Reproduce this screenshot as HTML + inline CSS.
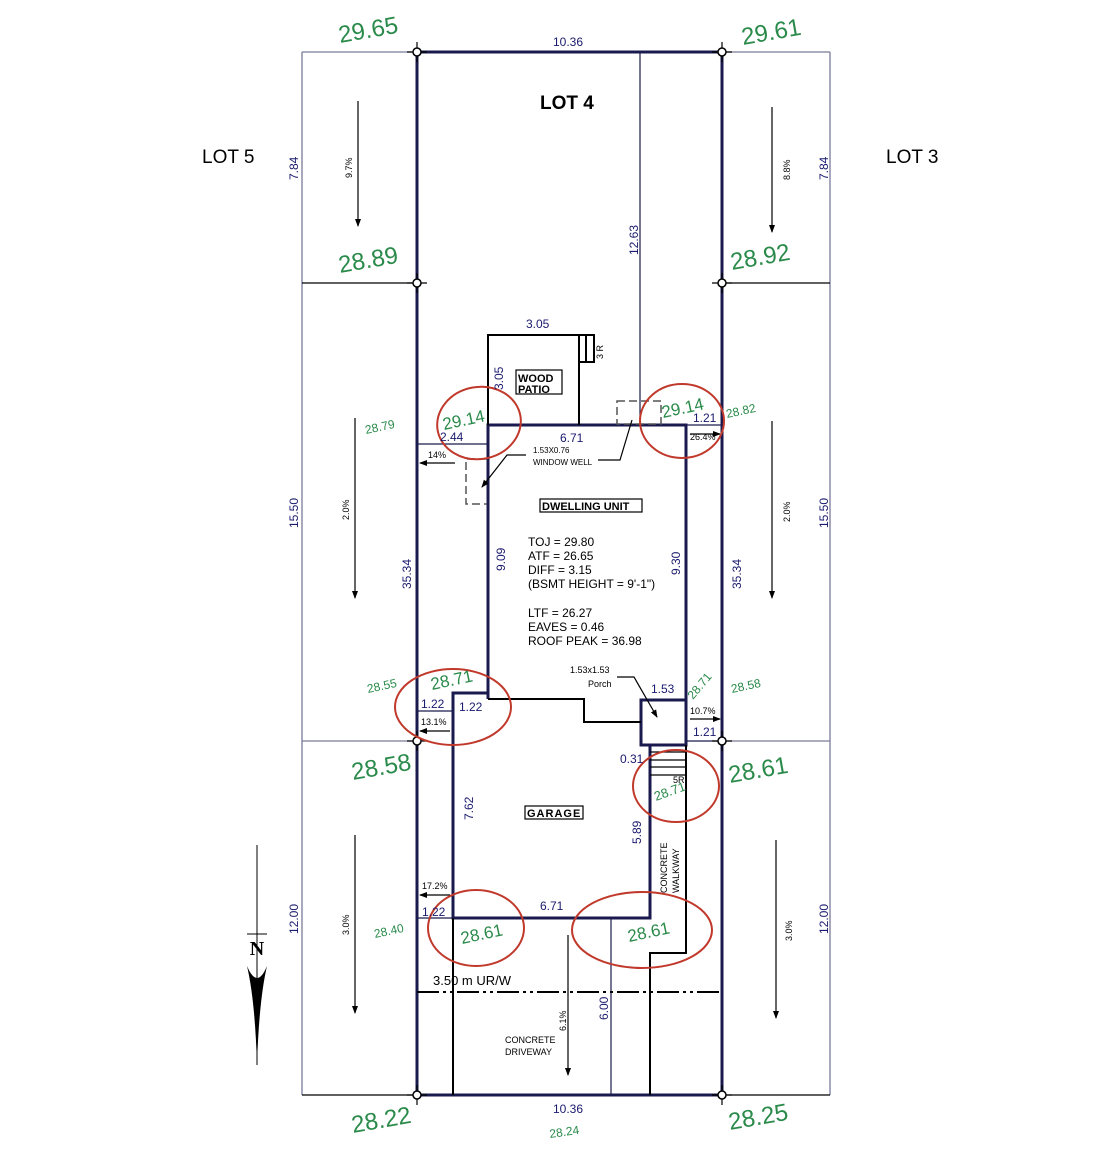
<!DOCTYPE html>
<html><head><meta charset="utf-8"><style>
html,body{margin:0;padding:0;background:#fff;}
svg{display:block;font-family:"Liberation Sans",sans-serif;}
.b{fill:#1a1a6e}
.g{fill:#2a8a4a}
.k{fill:#000}
</style></head><body>
<svg width="1120" height="1169" viewBox="0 0 1120 1169" xmlns="http://www.w3.org/2000/svg">
<defs>
<marker id="ar" markerWidth="8" markerHeight="8" refX="7" refY="4" orient="auto" markerUnits="userSpaceOnUse"><path d="M0,1 L8,4 L0,7 Z" fill="#000"/></marker>
</defs>
<g stroke="#7a7a9a" stroke-width="1.3" fill="none">
<line x1="302" y1="52" x2="302" y2="1095"/>
<line x1="830" y1="52" x2="830" y2="1095"/>
<line x1="302" y1="52" x2="417" y2="52"/>
<line x1="722" y1="52" x2="830" y2="52"/>
<line x1="302" y1="741" x2="417" y2="741"/>
<line x1="722" y1="741" x2="830" y2="741"/>
</g>
<g stroke="#000" stroke-width="1.2" fill="none">
<line x1="302" y1="283" x2="417" y2="283"/>
<line x1="722" y1="283" x2="830" y2="283"/>
<line x1="302" y1="1095" x2="417" y2="1095"/>
<line x1="722" y1="1095" x2="830" y2="1095"/>
</g>
<rect x="417" y="52" width="305" height="1043" fill="none" stroke="#1a1a4e" stroke-width="3"/>
<g stroke="#1a1a4e" stroke-width="1.2">
<line x1="640" y1="52" x2="640" y2="425"/>
<line x1="417" y1="444" x2="487" y2="444"/>
<line x1="686" y1="425" x2="722" y2="425"/>
<line x1="417" y1="711" x2="453" y2="711"/>
<line x1="686" y1="741" x2="722" y2="741"/>
<line x1="417" y1="918" x2="453" y2="918"/>
<line x1="611" y1="918" x2="611" y2="1095"/>
</g>
<g stroke="#1a1a4e" stroke-width="3" fill="none">
<polyline points="488,699 488,425 686,425 686,700"/>
<polyline points="488,693 453,693 453,918 650,918 650,745"/>
<rect x="641" y="700" width="45" height="45"/>
</g>
<g stroke="#000" stroke-width="2" fill="none">
<polyline points="488,699 584,699 584,722 641,722"/>
<polyline points="488,425 488,335 579,335 579,425"/>
<rect x="579" y="335" width="15" height="27"/>
<line x1="586" y1="335" x2="586" y2="362"/>
<polyline points="686,745 686,953 650,953 650,1095"/>
<line x1="453" y1="918" x2="453" y2="1095"/>
</g>
<g stroke="#000" stroke-width="1.2">
<line x1="650" y1="752" x2="686" y2="752"/>
<line x1="650" y1="760" x2="686" y2="760"/>
<line x1="650" y1="767" x2="686" y2="767"/>
<line x1="650" y1="775" x2="686" y2="775"/>
</g>
<g stroke="#555" stroke-width="1.5" fill="none" stroke-dasharray="8,4">
<rect x="617" y="401" width="44" height="23"/>
<polyline points="487,459 466,459 466,504 487,504"/>
</g>
<line x1="417" y1="992" x2="722" y2="992" stroke="#000" stroke-width="2" stroke-dasharray="22,4,3,4,3,4"/>
<g stroke="#000" stroke-width="1.2" fill="none">
<polyline points="526,455 507,455 482,487" marker-end="url(#ar)"/>
<polyline points="598,460 620,460 632,420" />
<polyline points="617,677 634,677 657,717" marker-end="url(#ar)"/>
</g>
<g stroke="#000" stroke-width="1.2" marker-end="url(#ar)">
<line x1="358" y1="101" x2="358" y2="226"/>
<line x1="772" y1="107" x2="772" y2="232"/>
<line x1="355" y1="418" x2="355" y2="598"/>
<line x1="772" y1="421" x2="772" y2="598"/>
<line x1="355" y1="835" x2="355" y2="1013"/>
<line x1="776" y1="840" x2="776" y2="1018"/>
<line x1="568" y1="935" x2="568" y2="1075"/>
<line x1="455" y1="463" x2="420" y2="463"/>
<line x1="690" y1="434" x2="720" y2="434" />
<line x1="450" y1="731" x2="420" y2="731"/>
<line x1="690" y1="719" x2="720" y2="719"/>
<line x1="450" y1="895" x2="420" y2="895"/>
</g>
<g stroke="#000" stroke-width="1.2">
<path d="M407,52h20M417,42v20M712,52h20M722,42v20M407,283h20M417,273v20M712,283h20M722,273v20M407,741h20M417,731v20M712,741h20M722,731v20M407,1095h20M417,1085v20M712,1095h20M722,1085v20"/>
</g>
<g stroke="#000" stroke-width="1.5" fill="#fff">
<circle cx="417" cy="52" r="4"/><circle cx="722" cy="52" r="4"/><circle cx="417" cy="283" r="4"/><circle cx="722" cy="283" r="4"/><circle cx="417" cy="741" r="4"/><circle cx="722" cy="741" r="4"/><circle cx="417" cy="1095" r="4"/><circle cx="722" cy="1095" r="4"/>
</g>
<g stroke="#c0392b" stroke-width="2" fill="none">
<ellipse cx="479" cy="423" rx="42" ry="36" transform="rotate(-10 479 423)"/>
<ellipse cx="682" cy="421" rx="42" ry="37"/>
<ellipse cx="453" cy="707" rx="58" ry="38"/>
<ellipse cx="676" cy="786" rx="43" ry="36"/>
<ellipse cx="476" cy="928" rx="48" ry="38"/>
<ellipse cx="642" cy="930" rx="70" ry="38"/>
</g>
<line x1="257" y1="845" x2="257" y2="1065" stroke="#000" stroke-width="1"/>
<line x1="247" y1="934" x2="267" y2="934" stroke="#000" stroke-width="1"/>
<text x="257" y="955" font-family="Liberation Serif,serif" font-size="20" font-weight="bold" text-anchor="middle" class="k">N</text>
<path d="M247,966 Q257,990 267,966 Q259,1000 257,1065 Q255,1000 247,966 Z" fill="#000"/>
<g fill="none" stroke="#000" stroke-width="1.2">
<rect x="516" y="370" width="46" height="24"/>
<rect x="540" y="499" width="102" height="13"/>
<rect x="525" y="806" width="58" height="13"/>
</g>
<g class="k">
<text x="540" y="109" font-size="19" font-weight="bold">LOT 4</text>
<text x="202" y="163" font-size="19">LOT 5</text>
<text x="886" y="163" font-size="19">LOT 3</text>
<text x="518" y="382" font-size="11" font-weight="bold">WOOD</text>
<text x="518" y="393" font-size="11" font-weight="bold">PATIO</text>
<text x="542" y="510" font-size="11" font-weight="bold">DWELLING UNIT</text>
<text x="527" y="817" font-size="11" font-weight="bold" letter-spacing="1">GARAGE</text>
<text x="528" y="546" font-size="12">TOJ = 29.80</text>
<text x="528" y="560" font-size="12">ATF = 26.65</text>
<text x="528" y="574" font-size="12">DIFF = 3.15</text>
<text x="528" y="588" font-size="12">(BSMT HEIGHT = 9'-1")</text>
<text x="528" y="617" font-size="12">LTF = 26.27</text>
<text x="528" y="631" font-size="12">EAVES = 0.46</text>
<text x="528" y="645" font-size="12">ROOF PEAK = 36.98</text>
<text x="533" y="453" font-size="8">1.53X0.76</text>
<text x="533" y="465" font-size="8">WINDOW WELL</text>
<text x="570" y="673" font-size="9">1.53x1.53</text>
<text x="588" y="687" font-size="9">Porch</text>
<text x="673" y="783" font-size="9">5R</text>
<text x="433" y="985" font-size="13">3.50 m UR/W</text>
<text x="505" y="1043" font-size="9">CONCRETE</text>
<text x="505" y="1055" font-size="9">DRIVEWAY</text>
<text x="428" y="458" font-size="9">14%</text>
<text x="690" y="440" font-size="9">26.4%</text>
<text x="421" y="725" font-size="9">13.1%</text>
<text x="690" y="714" font-size="9">10.7%</text>
<text x="422" y="889" font-size="9">17.2%</text>
<text transform="translate(603,359) rotate(-90)" font-size="9">3 R</text>
<text transform="translate(352,178) rotate(-90)" font-size="9">9.7%</text>
<text transform="translate(790,180) rotate(-90)" font-size="9">8.8%</text>
<text transform="translate(349,520) rotate(-90)" font-size="9">2.0%</text>
<text transform="translate(790,522) rotate(-90)" font-size="9">2.0%</text>
<text transform="translate(349,935) rotate(-90)" font-size="9">3.0%</text>
<text transform="translate(792,941) rotate(-90)" font-size="9">3.0%</text>
<text transform="translate(566,1031) rotate(-90)" font-size="9">6.1%</text>
<text transform="translate(667,893) rotate(-90)" font-size="9">CONCRETE</text>
<text transform="translate(679,893) rotate(-90)" font-size="9">WALKWAY</text>
</g>
<g class="b" font-size="12">
<text x="553" y="46">10.36</text>
<text x="553" y="1113">10.36</text>
<text x="526" y="328">3.05</text>
<text x="560" y="442">6.71</text>
<text x="440" y="441">2.44</text>
<text x="693" y="422">1.21</text>
<text x="651" y="693">1.53</text>
<text x="421" y="708">1.22</text>
<text x="459" y="711">1.22</text>
<text x="693" y="736">1.21</text>
<text x="620" y="763">0.31</text>
<text x="540" y="910">6.71</text>
<text x="422" y="916">1.22</text>
<text transform="translate(298,180) rotate(-90)">7.84</text>
<text transform="translate(828,180) rotate(-90)">7.84</text>
<text transform="translate(298,528) rotate(-90)">15.50</text>
<text transform="translate(828,528) rotate(-90)">15.50</text>
<text transform="translate(298,934) rotate(-90)">12.00</text>
<text transform="translate(828,934) rotate(-90)">12.00</text>
<text transform="translate(638,255) rotate(-90)">12.63</text>
<text transform="translate(503,390) rotate(-90)">3.05</text>
<text transform="translate(411,589) rotate(-90)">35.34</text>
<text transform="translate(741,589) rotate(-90)">35.34</text>
<text transform="translate(505,571) rotate(-90)">9.09</text>
<text transform="translate(680,575) rotate(-90)">9.30</text>
<text transform="translate(473,820) rotate(-90)">7.62</text>
<text transform="translate(641,844) rotate(-90)">5.89</text>
<text transform="translate(608,1020) rotate(-90)">6.00</text>
</g>
<g class="g">
<text transform="translate(340,43) rotate(-10)" font-size="24">29.65</text>
<text transform="translate(743,45) rotate(-10)" font-size="24">29.61</text>
<text transform="translate(340,273) rotate(-10)" font-size="24">28.89</text>
<text transform="translate(732,270) rotate(-10)" font-size="24">28.92</text>
<text transform="translate(353,780) rotate(-10)" font-size="24">28.58</text>
<text transform="translate(730,783) rotate(-10)" font-size="24">28.61</text>
<text transform="translate(353,1133) rotate(-10)" font-size="24">28.22</text>
<text transform="translate(730,1130) rotate(-10)" font-size="24">28.25</text>
<text transform="translate(444,430) rotate(-12)" font-size="17">29.14</text>
<text transform="translate(663,418) rotate(-12)" font-size="17">29.14</text>
<text transform="translate(432,690) rotate(-12)" font-size="17">28.71</text>
<text transform="translate(462,944) rotate(-12)" font-size="17">28.61</text>
<text transform="translate(629,942) rotate(-12)" font-size="17">28.61</text>
<text transform="translate(656,801) rotate(-20)" font-size="13">28.71</text>
<text transform="translate(693,700) rotate(-50)" font-size="12">28.71</text>
<text transform="translate(366,434) rotate(-12)" font-size="12">28.79</text>
<text transform="translate(727,418) rotate(-12)" font-size="12">28.82</text>
<text transform="translate(368,693) rotate(-12)" font-size="12">28.55</text>
<text transform="translate(732,693) rotate(-12)" font-size="12">28.58</text>
<text transform="translate(375,938) rotate(-12)" font-size="12">28.40</text>
<text transform="translate(550,1138) rotate(-8)" font-size="12">28.24</text>
</g>
</svg>
</body></html>
